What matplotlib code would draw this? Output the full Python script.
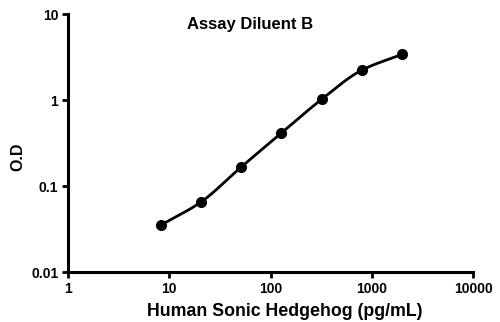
import numpy as np
import matplotlib
matplotlib.use("Agg")
import matplotlib.pyplot as plt
from matplotlib.ticker import FixedLocator, NullLocator

plt.rcParams["font.family"] = ["Liberation Sans", "DejaVu Sans"]

CONC = [8.2, 20.5, 51.2, 128, 320, 800, 2000]
OD = [0.035, 0.065, 0.166, 0.413, 1.02, 2.23, 3.4]
X_TICKS = [1, 10, 100, 1000, 10000]
Y_TICKS = [0.01, 0.1, 1, 10]
Y_TICK_LABELS = ["0.01", "0.1", "1", "10"]


def smooth_curve(x, y, n=200):
    """Monotone cubic (PCHIP) through the points in log-log space."""
    lx, ly = np.log10(x), np.log10(y)
    h = np.diff(lx)
    d = np.diff(ly) / h
    m = np.zeros_like(lx)
    for i in range(1, len(lx) - 1):
        if d[i - 1] * d[i] > 0:
            w1 = 2 * h[i] + h[i - 1]
            w2 = h[i] + 2 * h[i - 1]
            m[i] = (w1 + w2) / (w1 / d[i - 1] + w2 / d[i])
    m[0] = d[0]
    m[-1] = d[-1]
    xs, ys = [], []
    for i in range(len(lx) - 1):
        t = np.linspace(0, 1, n // len(h))
        h00 = 2 * t**3 - 3 * t**2 + 1
        h10 = t**3 - 2 * t**2 + t
        h01 = -2 * t**3 + 3 * t**2
        h11 = t**3 - t**2
        xs.append(lx[i] + t * h[i])
        ys.append(h00 * ly[i] + h10 * h[i] * m[i] + h01 * ly[i + 1] + h11 * h[i] * m[i + 1])
    return 10 ** np.concatenate(xs), 10 ** np.concatenate(ys)


fig = plt.figure(figsize=(5.0, 3.22), dpi=100)
ax = fig.add_axes([0.136, 0.155, 0.81, 0.8015])

cx, cy = smooth_curve(np.array(CONC), np.array(OD))
ax.plot(cx, cy, color="black", lw=2.0, zorder=2)
ax.plot(CONC, OD, "o", color="black", ms=7, zorder=3)

ax.set_xscale("log")
ax.set_yscale("log")
ax.set_xlim(1, 10000)
ax.set_ylim(0.01, 10)
ax.xaxis.set_major_locator(FixedLocator(X_TICKS))
ax.yaxis.set_major_locator(FixedLocator(Y_TICKS))
ax.xaxis.set_minor_locator(NullLocator())
ax.yaxis.set_minor_locator(NullLocator())
ax.set_xticklabels([str(v) for v in X_TICKS])
ax.set_yticklabels(Y_TICK_LABELS)

for s in ["top", "right"]:
    ax.spines[s].set_visible(False)
for s in ["left", "bottom"]:
    ax.spines[s].set_linewidth(2.2)

ax.tick_params(direction="out", length=4, width=2, labelsize=10, pad=3)
for lab in ax.get_xticklabels() + ax.get_yticklabels():
    lab.set_fontweight("bold")

ax.set_xlabel("Human Sonic Hedgehog (pg/mL)", fontsize=12.8, fontweight="bold")
ax.xaxis.set_label_coords(0.536, -0.118)
ax.set_ylabel("O.D", fontsize=11.5, fontweight="bold")
ax.yaxis.set_label_coords(-0.106, 0.446)
ax.text(0.45, 0.99, "Assay Diluent B", transform=ax.transAxes, ha="center", va="top",
        fontsize=12, fontweight="bold")

fig.savefig("out.png", dpi=100, facecolor="white")
